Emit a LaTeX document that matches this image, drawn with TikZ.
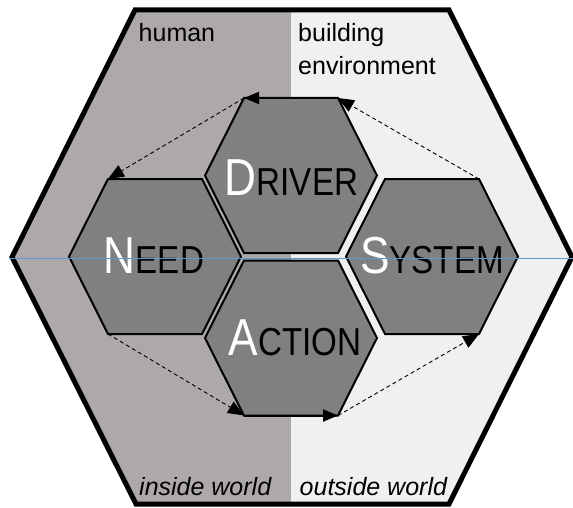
\documentclass[tikz,border=0pt]{standalone}
\usepackage{fontspec}
\setmainfont{Liberation Sans}
\newfontfamily\cellfont[FakeStretch=0.85]{Liberation Sans}
\usetikzlibrary{arrows.meta}

\definecolor{humanside}{HTML}{ADA9A8}
\definecolor{buildingside}{HTML}{F0F0F0}
\definecolor{cellfill}{HTML}{808080}
\definecolor{guideline}{HTML}{5B9BD5}

% one hexagonal cell: name, centre x, centre y
\newcommand{\hexcell}[3]{
    \filldraw[cell] (#2-86,#3) -- (#2-47,#3-77.5) -- (#2+47,#3-77.5) -- (#2+86,#3)
        -- (#2+47,#3+77.5) -- (#2-47,#3+77.5) -- cycle;
    \coordinate (#1-tl) at (#2-47,#3-77.5);
    \coordinate (#1-tr) at (#2+47,#3-77.5);
    \coordinate (#1-bl) at (#2-47,#3+77.5);
    \coordinate (#1-br) at (#2+47,#3+77.5);
}
% white first letter of a cell word
\newcommand{\bigletter}[1]{{\color{white}\fontsize{52}{52}\selectfont #1}}

\begin{document}
\begin{tikzpicture}[x=1pt, y=-1pt,
    cell/.style={color=black, fill=cellfill, line width=2pt},
    flow/.style={line width=0.9pt, dash pattern=on 4pt off 3pt, -{Triangle[length=16pt, width=13pt]}},
    edgeflow/.style={line width=2pt, -{Triangle[length=15pt, width=12pt]}},
    side/.style={inner sep=0pt, anchor=base west, font=\fontsize{25}{30}\selectfont},
    world/.style={inner sep=0pt, anchor=base west, font=\fontsize{25}{30}\selectfont\itshape},
    word/.style={inner sep=0pt, anchor=base, font=\cellfont\fontsize{39}{40}\selectfont},
]
    \useasboundingbox (0,0) rectangle (573,508);

    % outer hexagon
    \coordinate (o-l) at (12,257);
    \coordinate (o-tl) at (135,10);
    \coordinate (o-tr) at (449,10);
    \coordinate (o-r) at (572,257);
    \coordinate (o-br) at (449,504);
    \coordinate (o-bl) at (136,504);

    \begin{scope}
        \clip (o-l) -- (o-tl) -- (o-tr) -- (o-r) -- (o-br) -- (o-bl) -- cycle;
        \fill[humanside] (0,0) rectangle (291,508);
        \fill[buildingside] (291,0) rectangle (573,508);
    \end{scope}
    \draw[line width=5pt, line join=miter] (o-l) -- (o-tl) -- (o-tr) -- (o-r) -- (o-br) -- (o-bl) -- cycle;

    \node[side] (human) at (138.5,41.7) {human};
    \node[side] (building) at (298,41.7) {building};
    \node[side] (environment) at (298,75) {environment};
    \node[world] (inside) at (139,495) {inside world};
    \node[world] (outside) at (299.5,495) {outside world};

    % cells
    \hexcell{driver}{291}{175.5}
    \hexcell{need}{155}{256.5}
    \hexcell{system}{432}{256.5}
    \hexcell{action}{291}{338}

    \node[word] (driverword) at (291.5,195) {\bigletter{D}RIVER};
    \node[word] (needword) at (154,273) {\bigletter{N}EED};
    \node[word] (systemword) at (432,273) {\bigletter{S}YSTEM};
    \node[word] (actionword) at (295,355) {\bigletter{A}CTION};

    % cycle
    \draw[flow] (system-tr) -- (driver-tr);
    \draw[edgeflow] (driver-tr) -- (driver-tl);
    \draw[flow] (driver-tl) -- (need-tl);
    \draw[flow] (need-bl) -- (action-bl);
    \draw[edgeflow] (action-bl) -- (action-br);
    \draw[flow] (action-br) -- (system-br);

    \draw[guideline, line width=1pt] (9,258) -- (573,258);

\end{tikzpicture}
\end{document}
